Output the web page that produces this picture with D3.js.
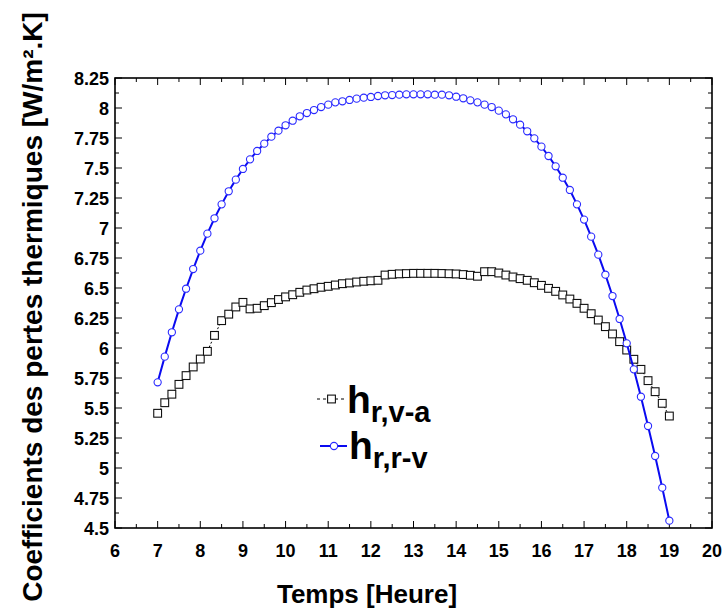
<!DOCTYPE html>
<html>
<head>
<meta charset="utf-8">
<script src="https://d3js.org/d3.v7.min.js"></script>
<style>
  body { margin: 0; background: #fff; }
  svg text { font-family: "Liberation Sans", Arial, sans-serif; font-weight: bold; }
</style>
</head>
<body>
<div id="chart"></div>
<script>
// sampling: every 10 min from 7h to 19h
var temps = d3.range(73).map(function(i) { return 7 + i / 6; });

// h_r,v-a (black squares)
var h_rva = [
  5.456, 5.544, 5.615, 5.697, 5.770, 5.842, 5.908, 5.972, 6.105, 6.228,
  6.282, 6.342, 6.380, 6.326, 6.331, 6.353, 6.378, 6.404, 6.426, 6.444,
  6.464, 6.483, 6.494, 6.506, 6.514, 6.525, 6.536, 6.542, 6.550, 6.556,
  6.560, 6.564, 6.608, 6.614, 6.618, 6.620, 6.622, 6.622, 6.622, 6.622,
  6.621, 6.619, 6.617, 6.612, 6.606, 6.598, 6.636, 6.636, 6.625, 6.608,
  6.592, 6.578, 6.564, 6.544, 6.522, 6.497, 6.472, 6.442, 6.408, 6.372,
  6.331, 6.286, 6.233, 6.178, 6.117, 6.053, 5.983, 5.906, 5.822, 5.728,
  5.636, 5.539, 5.433
];

// h_r,r-v (blue circles)
var h_rrv = [
  5.714, 5.928, 6.131, 6.322, 6.494, 6.658, 6.811, 6.953, 7.081, 7.197,
  7.306, 7.403, 7.492, 7.572, 7.642, 7.703, 7.761, 7.811, 7.856, 7.894,
  7.931, 7.958, 7.983, 8.008, 8.028, 8.047, 8.056, 8.067, 8.078, 8.086,
  8.092, 8.100, 8.106, 8.108, 8.111, 8.114, 8.114, 8.114, 8.114, 8.111,
  8.111, 8.106, 8.094, 8.081, 8.064, 8.047, 8.028, 8.008, 7.978, 7.947,
  7.906, 7.861, 7.806, 7.747, 7.678, 7.600, 7.514, 7.419, 7.317, 7.197,
  7.070, 6.928, 6.778, 6.611, 6.433, 6.242, 6.039, 5.822, 5.594, 5.350,
  5.100, 4.836, 4.561
];

var xTicks = d3.range(6, 21, 1);
var yTicks = [4.5, 4.75, 5, 5.25, 5.5, 5.75, 6, 6.25, 6.5, 6.75, 7, 7.25, 7.5, 7.75, 8, 8.25];

var W = 723, H = 610;
var margin = { top: 78, right: 11, bottom: 82, left: 115 };
var width = W - margin.left - margin.right,
    height = H - margin.top - margin.bottom;

var svg = d3.select("#chart").append("svg")
  .attr("width", W)
  .attr("height", H);

var g = svg.append("g")
  .attr("transform", "translate(" + margin.left + "," + margin.top + ")");

var x = d3.scaleLinear().domain([6, 20]).range([0, width]);
var y = d3.scaleLinear().domain([4.5, 8.25]).range([height, 0]);

// ticks (inside) on all four sides
var xMinor = d3.range(6, 20.01, 0.5);
var yMinor = d3.range(4.5, 8.2501, 0.125);

function isMajor(v, step) { return Math.abs(v / step - Math.round(v / step)) < 1e-6; }

g.selectAll(".xt-b").data(xMinor).join("line")
  .attr("x1", d => x(d)).attr("x2", d => x(d))
  .attr("y1", height).attr("y2", d => height - (isMajor(d, 1) ? 7 : 4))
  .attr("stroke", "#000").attr("stroke-width", 1);
g.selectAll(".xt-t").data(xMinor).join("line")
  .attr("x1", d => x(d)).attr("x2", d => x(d))
  .attr("y1", 0).attr("y2", d => isMajor(d, 1) ? 7 : 4)
  .attr("stroke", "#000").attr("stroke-width", 1);
g.selectAll(".yt-l").data(yMinor).join("line")
  .attr("y1", d => y(d)).attr("y2", d => y(d))
  .attr("x1", 0).attr("x2", d => isMajor(d, 0.25) ? 7 : 4)
  .attr("stroke", "#000").attr("stroke-width", 1);
g.selectAll(".yt-r").data(yMinor).join("line")
  .attr("y1", d => y(d)).attr("y2", d => y(d))
  .attr("x1", width).attr("x2", d => width - (isMajor(d, 0.25) ? 7 : 4))
  .attr("stroke", "#000").attr("stroke-width", 1);

// frame
g.append("rect")
  .attr("width", width).attr("height", height)
  .attr("fill", "none").attr("stroke", "#000").attr("stroke-width", 1.6);

// tick labels
g.selectAll(".xl").data(xTicks).join("text")
  .attr("x", d => x(d)).attr("y", height + 29)
  .attr("text-anchor", "middle")
  .attr("font-size", 18)
  .text(d => d);
g.selectAll(".yl").data(yTicks).join("text")
  .attr("x", -6).attr("y", d => y(d) + 6.5)
  .attr("text-anchor", "end")
  .attr("font-size", 18)
  .text(d => d);

// axis titles
svg.append("text")
  .attr("x", 367).attr("y", 603)
  .attr("text-anchor", "middle")
  .attr("font-size", 26)
  .text("Temps [Heure]");
svg.append("text")
  .attr("transform", "translate(42,307) rotate(-90)")
  .attr("text-anchor", "middle")
  .attr("font-size", 28)
  .text("Coefficients des pertes thermiques [W/m².K]");

// series
var lineA = d3.line().x((d, i) => x(temps[i])).y(d => y(d));

g.append("path").datum(h_rva)
  .attr("d", lineA)
  .attr("fill", "none").attr("stroke", "#000")
  .attr("stroke-width", 1).attr("stroke-dasharray", "2,2");

g.selectAll(".sq").data(h_rva).join("rect")
  .attr("x", (d, i) => x(temps[i]) - 3.9)
  .attr("y", d => y(d) - 3.9)
  .attr("width", 7.8).attr("height", 7.8)
  .attr("fill", "#fff").attr("stroke", "#111").attr("stroke-width", 1.1);

g.append("path").datum(h_rrv)
  .attr("d", lineA)
  .attr("fill", "none").attr("stroke", "#0a0af0")
  .attr("stroke-width", 2);

g.selectAll(".ci").data(h_rrv).join("circle")
  .attr("cx", (d, i) => x(temps[i]))
  .attr("cy", d => y(d))
  .attr("r", 3.6)
  .attr("fill", "#fff").attr("stroke", "#2a2aff").attr("stroke-width", 1.1);

// legend
var leg = svg.append("g");
leg.append("line")
  .attr("x1", 317).attr("x2", 345).attr("y1", 399).attr("y2", 399)
  .attr("stroke", "#000").attr("stroke-width", 1).attr("stroke-dasharray", "3,3");
leg.append("rect")
  .attr("x", 327.6).attr("y", 395.1).attr("width", 7.8).attr("height", 7.8)
  .attr("fill", "#fff").attr("stroke", "#111").attr("stroke-width", 1.1);
var t1 = leg.append("text").attr("x", 347).attr("y", 413).attr("font-size", 39);
t1.append("tspan").text("h");
t1.append("tspan").attr("font-size", 29).attr("dy", 9).text("r,v-a");

leg.append("line")
  .attr("x1", 320).attr("x2", 347).attr("y1", 446).attr("y2", 446)
  .attr("stroke", "#0a0af0").attr("stroke-width", 2);
leg.append("circle")
  .attr("cx", 334).attr("cy", 446).attr("r", 3.6)
  .attr("fill", "#fff").attr("stroke", "#2a2aff").attr("stroke-width", 1.1);
var t2 = leg.append("text").attr("x", 349).attr("y", 459).attr("font-size", 39);
t2.append("tspan").text("h");
t2.append("tspan").attr("font-size", 29).attr("dy", 9).text("r,r-v");
</script>
</body>
</html>
